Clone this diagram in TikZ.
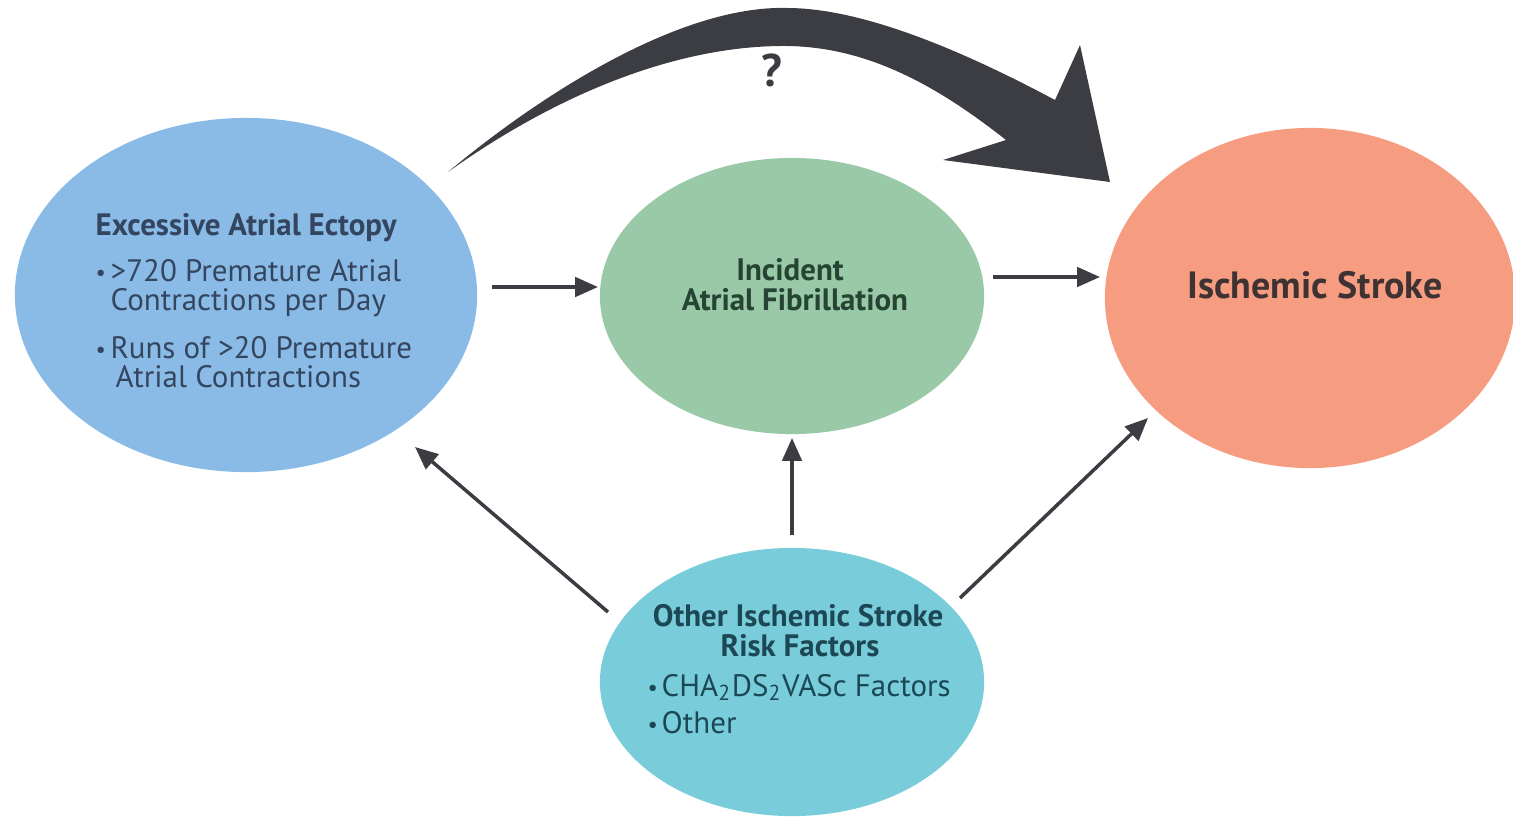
\documentclass[tikz,border=0pt]{standalone}
\usepackage{fontspec}
\setmainfont{PT Sans}
\usetikzlibrary{arrows.meta,calc,shapes.geometric}
\definecolor{cblue}{RGB}{138,186,230}
\definecolor{cgreen}{RGB}{153,201,166}
\definecolor{corange}{RGB}{246,156,128}
\definecolor{cteal}{RGB}{121,205,218}
\definecolor{tblue}{RGB}{52,70,95}
\definecolor{tgreen}{RGB}{38,68,52}
\definecolor{torange}{RGB}{62,50,50}
\definecolor{tteal}{RGB}{28,72,86}
\definecolor{agray}{RGB}{60,61,66}
\tikzset{
  blob/.style={ellipse, draw=none, inner sep=0pt},
  lbl/.style={inner sep=0pt, font=\fontsize{8.8}{10}\selectfont},
  lblb/.style={lbl, font=\fontsize{8.8}{10}\selectfont\bfseries},
  bul/.style={inner sep=0pt, font=\fontsize{6.5}{8}\selectfont, anchor=base west},
  conn/.style={draw=agray, line width=1pt, -{Triangle[length=6.5pt,width=5.5pt]}},
}
\begin{document}
\begin{tikzpicture}[x=0.01cm,y=-0.01cm]
\useasboundingbox (0,0) rectangle (1513,818);
% ellipses
\node[blob, fill=cblue, minimum width=4.62cm, minimum height=3.54cm] (blue) at (246,295) {};
\node[blob, fill=cgreen, minimum width=3.84cm, minimum height=2.76cm] (green) at (792,296) {};
\node[blob, fill=corange, minimum width=4.10cm, minimum height=3.40cm] (orange) at (1310,298) {};
\node[blob, fill=cteal, minimum width=3.84cm, minimum height=2.68cm] (teal) at (792,682) {};
% big curved arrow
\fill[agray] (448,172) .. controls (540,95) and (680,5) .. (787,8)
  .. controls (870,8) and (980,60) .. (1055,100)
  -- (1080,45) -- (1110,182) -- (943,160) -- (1006,140)
  .. controls (940,88) and (870,47) .. (787,46)
  .. controls (680,45) and (560,92) .. (448,172) -- cycle;
\node[inner sep=0pt, text=agray, font=\fontsize{13}{15}\selectfont\bfseries, anchor=base] (q) at (772,86) {?};
% blue text
\node[lblb, anchor=base west, text=tblue] (b0) at (95,235) {Excessive Atrial Ectopy};
\node[bul, text=tblue] (b1d) at (95,280) {•};
\node[lbl, anchor=base west, text=tblue] (b1) at (110,281) {>720 Premature Atrial};
\node[lbl, anchor=base west, text=tblue] (b2) at (110,310) {Contractions per Day};
\node[bul, text=tblue] (b3d) at (95,357) {•};
\node[lbl, anchor=base west, text=tblue] (b3) at (110,358) {Runs of >20 Premature};
\node[lbl, anchor=base west, text=tblue] (b4) at (115,387) {Atrial Contractions};
% green text
\node[lblb, anchor=base, text=tgreen] (g1) at (790,280) {Incident};
\node[lblb, anchor=base, text=tgreen] (g2) at (795,310) {Atrial Fibrillation};
% orange text
\node[lblb, anchor=base, text=torange, font=\fontsize{10.8}{12}\selectfont\bfseries] (o1) at (1315,298) {Ischemic Stroke};
% teal text
\node[lblb, anchor=base, text=tteal] (t1) at (798,626) {Other Ischemic Stroke};
\node[lblb, anchor=base, text=tteal] (t2) at (800,656) {Risk Factors};
\node[bul, text=tteal] (t3d) at (647,695) {•};
\node[lbl, anchor=base west, text=tteal] (t3) at (661,696) {CHA\textsubscript{2}DS\textsubscript{2}VASc Factors};
\node[bul, text=tteal] (t4d) at (647,732) {•};
\node[lbl, anchor=base west, text=tteal] (t4) at (661,733) {Other};
% connectors
\draw[conn] ($(blue.center)+(246,-8)$) -- ($(green.center)+(-194,-9)$);
\draw[conn] ($(green.center)+(201,-19)$) -- ($(orange.center)+(-210,-21)$);
\draw[conn] ($(teal.center)+(-184,-70)$) -- ($(blue.center)+(169,152)$);
\draw[conn] ($(teal.center)+(0,-147)$) -- ($(green.center)+(0,142)$);
\draw[conn] ($(teal.center)+(168,-84)$) -- ($(orange.center)+(-162,120)$);
\end{tikzpicture}
\end{document}
